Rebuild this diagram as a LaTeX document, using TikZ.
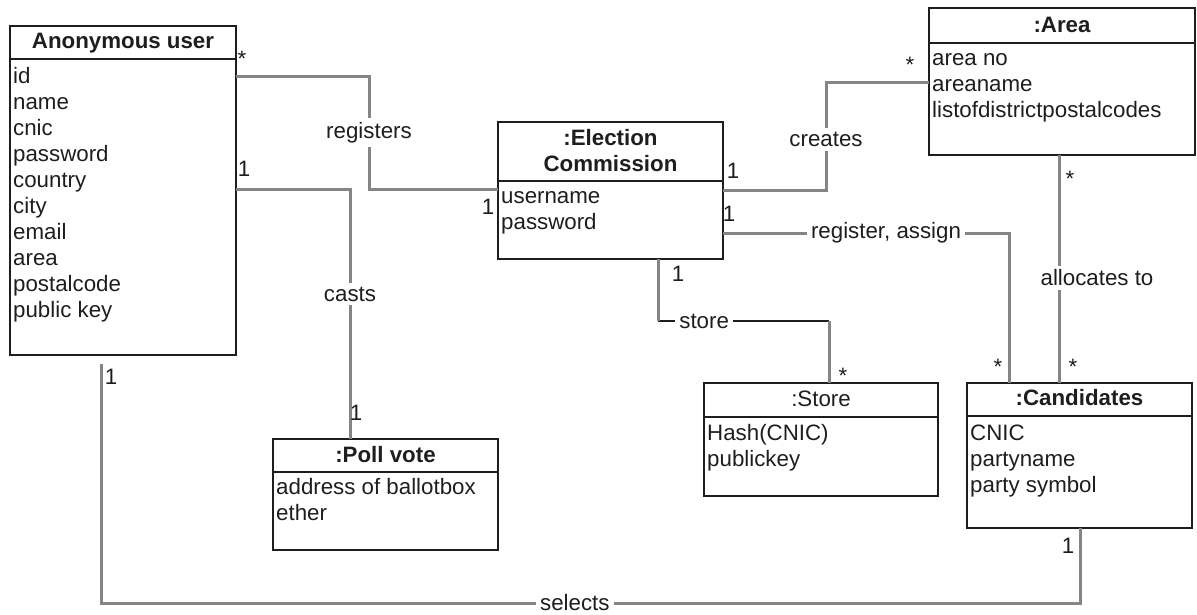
\documentclass[tikz,border=0pt]{standalone}
\usepackage{fontspec}
\setmainfont{Liberation Sans}
\definecolor{linkgray}{HTML}{858585}
\definecolor{ink}{HTML}{1E1E1E}
\begin{document}
\begin{tikzpicture}[x=1pt,y=-1pt,
  txt/.style={font=\fontsize{22.3}{26}\selectfont, text=ink},
  box/.style={draw=ink, line width=1.4pt, anchor=north west, inner sep=0pt, outer sep=0pt},
  sep/.style={draw=ink, line width=1.4pt},
  attr/.style={txt, anchor=base west, inner sep=0pt},
  title/.style={txt, anchor=base, inner sep=0pt, font=\fontsize{22.3}{26}\selectfont\bfseries},
  plaintitle/.style={txt, anchor=base, inner sep=0pt},
  link/.style={draw=linkgray, line width=3pt},
  thinlink/.style={draw=ink, line width=1.4pt},
  lbl/.style={txt, fill=white, inner sep=4pt},
  mult/.style={txt, anchor=base, inner sep=0pt}]
\useasboundingbox (0,0) rectangle (1197,614);

% ---------- classes ----------
% Anonymous user
\node[box, minimum width=226pt, minimum height=329pt] (au) at (10,26) {};
\draw[sep] (au.west |- 0,59) -- (au.east |- 0,59);
\node[title] (au-t) at (123,48) {Anonymous user};
\foreach \t [count=\i] in {id,name,cnic,password,country,city,email,area,postalcode,public key}
  \node[attr] (au-a\i) at (13,{83+26*(\i-1)}) {\t};

% Election Commission
\node[box, minimum width=225pt, minimum height=137pt] (ec) at (498,122) {};
\draw[sep] (ec.west |- 0,181) -- (ec.east |- 0,181);
\node[title] (ec-t1) at (610.5,145) {:Election};
\node[title] (ec-t2) at (610.5,171) {Commission};
\foreach \t [count=\i] in {username,password}
  \node[attr] (ec-a\i) at (501,{203+26*(\i-1)}) {\t};

% Area
\node[box, minimum width=266pt, minimum height=147pt] (area) at (929,8) {};
\draw[sep] (area.west |- 0,43) -- (area.east |- 0,43);
\node[title] (area-t) at (1062,32) {:Area};
\foreach \t [count=\i] in {area no,areaname,listofdistrictpostalcodes}
  \node[attr] (area-a\i) at (932,{65+26*(\i-1)}) {\t};

% Poll vote
\node[box, minimum width=225pt, minimum height=111pt] (poll) at (273,439) {};
\draw[sep] (poll.west |- 0,472) -- (poll.east |- 0,472);
\node[title] (poll-t) at (385.5,462) {:Poll vote};
\foreach \t [count=\i] in {address of ballotbox,ether}
  \node[attr] (poll-a\i) at (276,{494+26*(\i-1)}) {\t};

% Store
\node[box, minimum width=234pt, minimum height=113pt] (store) at (704,383) {};
\draw[sep] (store.west |- 0,417) -- (store.east |- 0,417);
\node[plaintitle] (store-t) at (821,406) {:Store};
\foreach \t [count=\i] in {Hash(CNIC),publickey}
  \node[attr] (store-a\i) at (707,{440+26*(\i-1)}) {\t};

% Candidates
\node[box, minimum width=225pt, minimum height=145pt] (cand) at (967,383) {};
\draw[sep] (cand.west |- 0,416) -- (cand.east |- 0,416);
\node[title] (cand-t) at (1079.5,405) {:Candidates};
\foreach \t [count=\i] in {CNIC,partyname,party symbol}
  \node[attr] (cand-a\i) at (970,{440+26*(\i-1)}) {\t};

% ---------- associations ----------
% registers
\draw[link] (au.east |- 0,76) -- (369,76)
  -- node[lbl] (l-reg) {registers} (369,189) -- (ec.west |- 0,189);
% casts
\draw[link] (au.east |- 0,189) -- (350,189)
  -- node[lbl, pos=0.42] (l-casts) {casts} (350,0 |- poll.north);
% creates
\draw[link] (ec.east |- 0,190) -- (826,190)
  -- node[lbl, pos=0.47] (l-creates) {creates} (826,82) -- (area.west |- 0,82);
% register, assign
\draw[link] (ec.east |- 0,233)
  -- node[lbl, pos=0.57] (l-regassign) {register, assign} (1009,233)
  -- (1009,0 |- cand.north);
% store
\draw[thinlink] (658,321) -- node[lbl, pos=0.27] (l-store) {store} (829,321);
\draw[link] (658,0 |- ec.south) -- (658,321);
\draw[link] (829,321) -- (829,0 |- store.north);
% allocates to
\draw[link] (1059,0 |- area.south) -- (1059,0 |- cand.north);
\node[lbl] (l-alloc) at (1097,278) {allocates to};
% selects
\coordinate (sel-start) at (101,364);
\draw[link] (sel-start) -- (101,603)
  -- node[lbl, pos=0.484] (l-selects) {selects} (1080,603) -- (1080,0 |- cand.south);

% ---------- multiplicities ----------
\node[mult] (m1) at (242,66) {*};
\node[mult] (m2) at (244,176) {1};
\node[mult] (m3) at (488,214) {1};
\node[mult] (m4) at (733,178) {1};
\node[mult] (m5) at (729,221) {1};
\node[mult] (m6) at (910,72) {*};
\node[mult] (m7) at (678,281) {1};
\node[mult] (m8) at (843,383) {*};
\node[mult] (m9) at (998,374) {*};
\node[mult] (m10) at (1070,186) {*};
\node[mult] (m11) at (1073,374) {*};
\node[mult] (m12) at (356,420) {1};
\node[mult] (m13) at (111,384) {1};
\node[mult] (m14) at (1068,553) {1};
\end{tikzpicture}
\end{document}
